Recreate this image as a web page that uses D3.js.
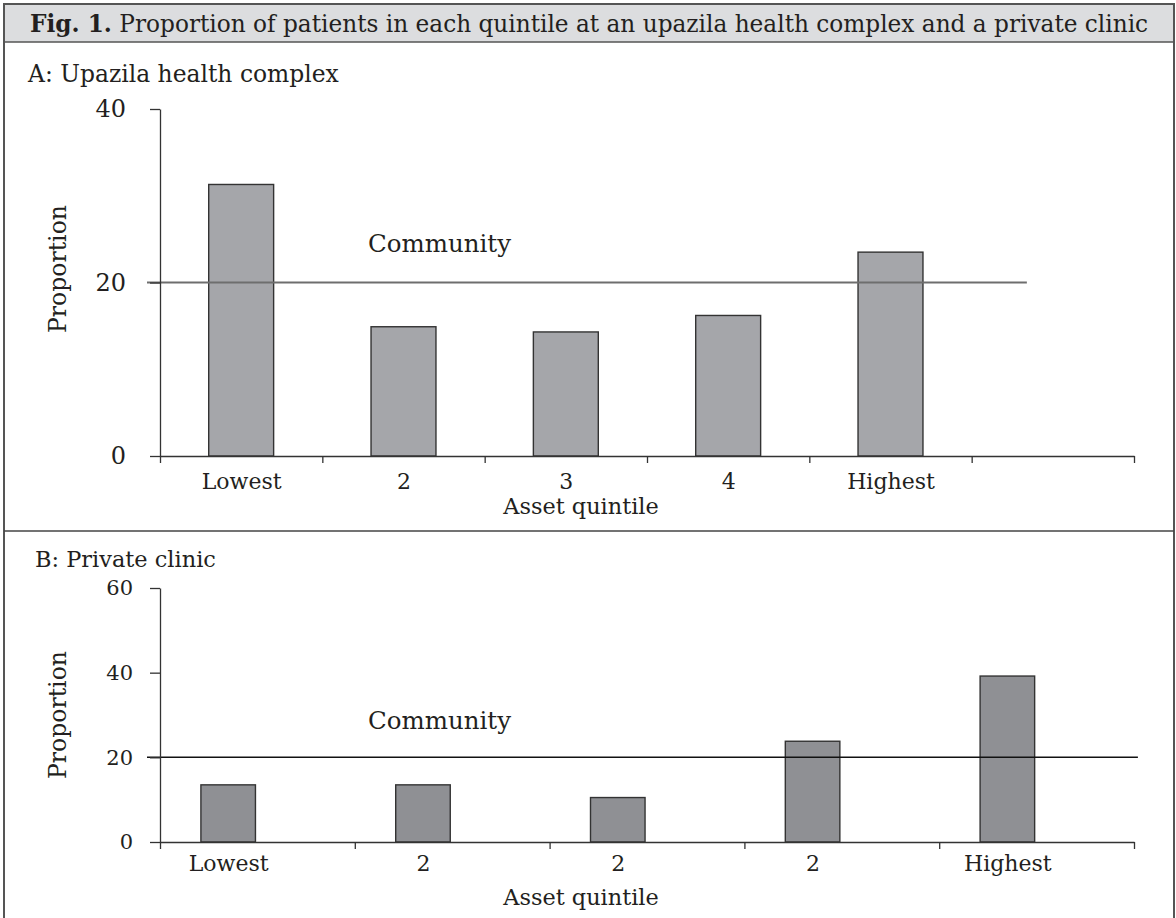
<!DOCTYPE html>
<html>
<head>
<meta charset="utf-8">
<script src="https://cdn.jsdelivr.net/npm/d3@7"></script>
<style>
body { margin: 0; background: #fff; }
text { font-family: "DejaVu Serif", serif; fill: #231f20; }
.axis path, .axis line { stroke: #333; stroke-width: 1.3; }
</style>
</head>
<body>
<div id="chart"></div>
<script>
// chart data
var titleBold = "Fig. 1.";
var titleRest = " Proportion of patients in each quintile at an upazila health complex and a private clinic";
var panelA = "A: Upazila health complex";
var panelB = "B: Private clinic";
var quintilesA = ["Lowest", "2", "3", "4", "Highest", ""];
var proportionA = [31.3, 14.9, 14.3, 16.2, 23.5];
var ticksA = [0, 20, 40];
var quintilesB = ["Lowest", "2", "2", "2", "Highest"];
var proportionB = [13.5, 13.5, 10.5, 23.8, 39.2];
var ticksB = [0, 20, 40, 60];
var community = 20;

var width = 1176, height = 918;

var svg = d3.select("#chart")
            .append("svg")
            .attr("width", width)
            .attr("height", height);

// squeeze / stretch a text to a given width by font size
function fitText(sel, target) {
  var fs = parseFloat(sel.style("font-size"));
  var len = sel.node().getComputedTextLength();
  sel.style("font-size", (fs * target / len) + "px");
}

// frame and title bar
svg.append("rect")
   .attr("x", 4).attr("y", 4).attr("width", 1170).attr("height", 38)
   .attr("fill", "#dcdddf");
svg.append("rect")
   .attr("x", 4).attr("y", 4).attr("width", 1170).attr("height", 930)
   .attr("fill", "none").attr("stroke", "#555").attr("stroke-width", 2);
svg.append("line")
   .attr("x1", 4).attr("x2", 1174).attr("y1", 42).attr("y2", 42)
   .attr("stroke", "#555").attr("stroke-width", 1.5);
svg.append("line")
   .attr("x1", 4).attr("x2", 1174).attr("y1", 531).attr("y2", 531)
   .attr("stroke", "#444").attr("stroke-width", 1.5);

var title = svg.append("text")
               .attr("x", 30).attr("y", 32)
               .style("font-size", "21px");
title.append("tspan").attr("font-weight", "bold").text(titleBold);
title.append("tspan").text(titleRest);
fitText(title, 1119);

function drawPanel(p) {
  var y = d3.scaleLinear().domain([0, p.yMax]).range([p.bottom, p.top]);
  var x = d3.scaleLinear().domain([0, p.cats.length]).range([160, 1134]);
  var bw = x(1) - x(0);

  // panel caption
  var cap = svg.append("text")
               .attr("x", p.capX).attr("y", p.capY)
               .style("font-size", "22px")
               .text(p.caption);
  fitText(cap, p.capW);

  // bars
  svg.selectAll(null)
     .data(p.values)
     .enter()
     .append("rect")
     .attr("x", function(d, i) { return x(i + p.offset) - bw * p.barFrac / 2; })
     .attr("width", bw * p.barFrac)
     .attr("y", function(d) { return y(d); })
     .attr("height", function(d) { return p.bottom - y(d); })
     .attr("fill", p.fill)
     .attr("stroke", "#333")
     .attr("stroke-width", 1.4);

  // community reference line
  svg.append("line")
     .attr("x1", 147).attr("x2", x(p.lineEnd))
     .attr("y1", y(community)).attr("y2", y(community))
     .attr("stroke", p.lineColor).attr("stroke-width", p.lineWidth);
  svg.append("text")
     .attr("x", 368).attr("y", y(community) - p.commGap)
     .style("font-size", "24.5px")
     .text("Community");

  // y axis
  var ya = svg.append("g")
              .attr("class", "axis")
              .attr("transform", "translate(160,0)")
              .call(d3.axisLeft(y).tickValues(p.ticks).tickSize(10)
                      .tickSizeOuter(0).tickPadding(p.yPad));
  ya.selectAll("text").style("font-size", p.yFont + "px")
    .style("font-family", "'DejaVu Serif', serif").attr("fill", "#231f20");

  // x axis: ticks at the quintile boundaries
  svg.append("g")
     .attr("class", "axis")
     .attr("transform", "translate(0," + p.bottom + ")")
     .call(d3.axisBottom(x).tickValues(d3.range(p.cats.length + 1))
             .tickFormat("").tickSize(7).tickSizeOuter(0));

  // x labels
  var xl = svg.append("g")
              .attr("transform", "translate(0," + p.bottom + ")")
              .call(d3.axisBottom(x)
                      .tickValues(d3.range(p.cats.length).map(function(i) { return i + p.offset; }))
                      .tickFormat(function(d, i) { return p.cats[i]; })
                      .tickSize(0).tickPadding(p.xPad));
  xl.select(".domain").remove();
  xl.selectAll("text").style("font-size", "22px")
    .style("font-family", "'DejaVu Serif', serif").attr("fill", "#231f20");

  // axis titles
  svg.append("text")
     .attr("x", 581).attr("y", p.xTitleY)
     .attr("text-anchor", "middle")
     .style("font-size", "22.4px")
     .text("Asset quintile");
  svg.append("text")
     .attr("transform", "translate(66," + p.yTitleY + ") rotate(-90)")
     .attr("text-anchor", "middle")
     .style("font-size", "23.5px")
     .text("Proportion");
}

drawPanel({
  caption: panelA, capX: 28, capY: 82, capW: 311,
  cats: quintilesA, values: proportionA, ticks: ticksA, yMax: 40,
  top: 109, bottom: 456, offset: 0.5, barFrac: 0.4,
  fill: "#a5a6aa", lineColor: "#6e6e6e", lineWidth: 2, lineEnd: 5.34, commGap: 31,
  yFont: 24, yPad: 24, xPad: 17, xTitleY: 514, yTitleY: 269
});

drawPanel({
  caption: panelB, capX: 35, capY: 567, capW: 181,
  cats: quintilesB, values: proportionB, ticks: ticksB, yMax: 60,
  top: 588, bottom: 842, offset: 0.35, barFrac: 0.28,
  fill: "#8f9094", lineColor: "#111", lineWidth: 1.5, lineEnd: 5.02, commGap: 28,
  yFont: 21, yPad: 17, xPad: 13, xTitleY: 905, yTitleY: 715
});
</script>
</body>
</html>
